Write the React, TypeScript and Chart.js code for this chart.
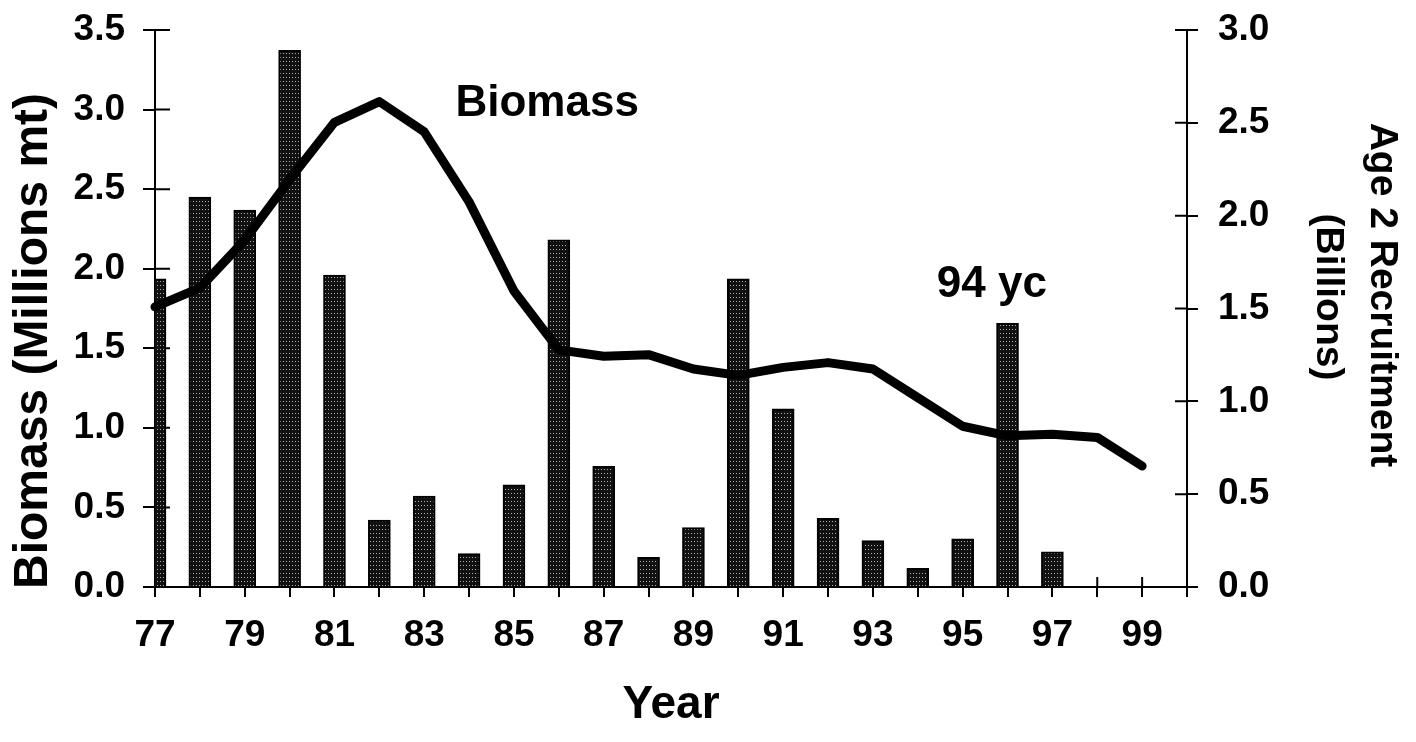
import React, { useEffect, useRef } from 'react';
import { Chart, registerables } from 'chart.js';

Chart.register(...registerables);

const years = [77, 78, 79, 80, 81, 82, 83, 84, 85, 86, 87, 88, 89, 90, 91, 92, 93, 94, 95, 96, 97, 98, 99];
const biomass = [1.76, 1.88, 2.18, 2.56, 2.92, 3.05, 2.86, 2.42, 1.86, 1.49, 1.45, 1.46, 1.37, 1.33, 1.38, 1.41, 1.37, 1.19, 1.01, 0.95, 0.96, 0.94, 0.76];
const recruitYears = [77, 78, 79, 80, 81, 82, 83, 84, 85, 86, 87, 88, 89, 90, 91, 92, 93, 94, 95, 96, 97];
const recruitment = [1.66, 2.1, 2.03, 2.89, 1.68, 0.36, 0.49, 0.18, 0.55, 1.87, 0.65, 0.16, 0.32, 1.66, 0.96, 0.37, 0.25, 0.1, 0.26, 1.42, 0.19];
const xMin = 77;
const xMax = 100;
const leftMax = 3.5;
const rightMax = 3.0;

const FONT = '"Liberation Sans", Arial, Helvetica, sans-serif';

export default function App() {
  const ref = useRef<HTMLCanvasElement>(null);

  useEffect(() => {
    const canvas = ref.current!;
    const ctx = canvas.getContext('2d')!;

    const tile = document.createElement('canvas');
    tile.width = 3;
    tile.height = 4;
    const tctx = tile.getContext('2d')!;
    tctx.fillStyle = '#111111';
    tctx.fillRect(0, 0, 3, 4);
    tctx.fillStyle = '#b0b0b0';
    tctx.fillRect(1, 1, 1, 1);
    const pattern = ctx.createPattern(tile, 'repeat') as CanvasPattern;

    const innerTicks = {
      id: 'innerTicks',
      beforeDatasetsDraw(chart: any) {
        const c = chart.ctx;
        const { left, right, bottom } = chart.chartArea;
        const xs = chart.scales.x;
        const y1 = chart.scales.y;
        const y2 = chart.scales.y2;
        c.save();
        c.strokeStyle = '#000';
        c.lineWidth = 2;
        c.beginPath();
        y1.ticks.forEach((t: any) => {
          const py = y1.getPixelForValue(t.value);
          c.moveTo(left, py);
          c.lineTo(left + 15, py);
        });
        y2.ticks.forEach((t: any) => {
          const py = y2.getPixelForValue(t.value);
          c.moveTo(right - 12, py);
          c.lineTo(right, py);
        });
        xs.ticks.forEach((t: any) => {
          const px = xs.getPixelForValue(t.value);
          c.moveTo(px, bottom);
          c.lineTo(px, bottom - 10);
        });
        c.stroke();
        c.restore();
      },
    };

    const texts = {
      id: 'texts',
      afterDraw(chart: any) {
        const c = chart.ctx;
        const xs = chart.scales.x;
        const y1 = chart.scales.y;
        c.save();
        c.fillStyle = '#000';
        c.font = `bold 44px ${FONT}`;
        c.textAlign = 'center';
        c.textBaseline = 'alphabetic';
        c.fillText('Biomass', xs.getPixelForValue(85.74), y1.getPixelForValue(2.96));
        c.fillText('94 yc', xs.getPixelForValue(95.65), y1.getPixelForValue(1.82));
        c.font = `bold 46px ${FONT}`;
        c.fillText('Year', 671, 718);

        c.save();
        c.translate(34, 341);
        c.rotate(-Math.PI / 2);
        c.textBaseline = 'middle';
        c.font = `bold 48px ${FONT}`;
        c.fillText('Biomass (Millions mt)', 0, 0);
        c.restore();

        c.save();
        c.translate(1382, 295);
        c.rotate(Math.PI / 2);
        c.textBaseline = 'middle';
        c.font = `bold 39px ${FONT}`;
        c.fillText('Age 2 Recruitment', 0, 0);
        c.restore();

        c.save();
        c.translate(1328, 297);
        c.rotate(Math.PI / 2);
        c.textBaseline = 'middle';
        c.font = `bold 39px ${FONT}`;
        c.fillText('(Billions)', 0, 0);
        c.restore();

        c.restore();
      },
    };

    const tickFont = { family: FONT, size: 37, weight: 'bold' as const };

    const chart = new Chart(ctx, {
      type: 'bar',
      data: {
        datasets: [
          {
            type: 'line',
            label: 'Biomass',
            data: years.map((x, i) => ({ x, y: biomass[i] })),
            yAxisID: 'y',
            borderColor: '#000',
            borderWidth: 9,
            pointRadius: 0,
            tension: 0,
            borderJoinStyle: 'round',
            borderCapStyle: 'round',
            order: 0,
            clip: false,
          } as any,
          {
            type: 'bar',
            label: 'Age 2 Recruitment',
            data: recruitYears.map((x, i) => ({ x, y: recruitment[i] })),
            yAxisID: 'y2',
            backgroundColor: pattern,
            borderColor: '#000',
            borderWidth: 2,
            barThickness: 22,
            order: 1,
            clip: 0,
          } as any,
        ],
      },
      plugins: [innerTicks, texts],
      options: {
        animation: false,
        responsive: false,
        maintainAspectRatio: false,
        events: [],
        layout: { padding: { top: 30, left: 0, right: 0, bottom: 0 } },
        plugins: {
          legend: { display: false },
          tooltip: { enabled: false },
          title: { display: false },
        },
        scales: {
          x: {
            type: 'linear',
            min: xMin,
            max: xMax,
            offset: false,
            afterFit: (s: any) => {
              s.height = 155;
              s.paddingLeft = 0;
              s.paddingRight = 0;
            },
            ticks: {
              stepSize: 1,
              autoSkip: false,
              maxRotation: 0,
              minRotation: 0,
              padding: 17,
              color: '#000',
              font: tickFont,
              callback: (v: any) => (Number(v) % 2 === 1 && Number(v) < xMax ? String(v) : ''),
            },
            grid: {
              offset: false,
              drawOnChartArea: false,
              drawTicks: true,
              tickLength: 10,
              color: '#000',
              lineWidth: 2,
            },
            border: { display: true, color: '#000', width: 2 },
          },
          y: {
            type: 'linear',
            position: 'left',
            min: 0,
            max: leftMax,
            afterFit: (s: any) => {
              s.width = 155;
              s.paddingTop = 0;
              s.paddingBottom = 0;
            },
            ticks: {
              stepSize: 0.5,
              padding: 18,
              color: '#000',
              font: tickFont,
              callback: (v: any) => Number(v).toFixed(1),
            },
            grid: {
              drawOnChartArea: false,
              drawTicks: true,
              tickLength: 12,
              color: '#000',
              lineWidth: 2,
            },
            border: { display: true, color: '#000', width: 2 },
          },
          y2: {
            type: 'linear',
            position: 'right',
            min: 0,
            max: rightMax,
            afterFit: (s: any) => {
              s.width = 229;
              s.paddingTop = 0;
              s.paddingBottom = 0;
            },
            ticks: {
              stepSize: 0.5,
              padding: 20,
              color: '#000',
              font: tickFont,
              callback: (v: any) => Number(v).toFixed(1),
            },
            grid: {
              drawOnChartArea: false,
              drawTicks: true,
              tickLength: 11,
              color: '#000',
              lineWidth: 2,
            },
            border: { display: true, color: '#000', width: 2 },
          },
        },
      } as any,
    });

    return () => chart.destroy();
  }, []);

  return (
    <div style={{ position: 'absolute', left: 0, top: 0, width: 1416, height: 742, background: '#fff' }}>
      <canvas ref={ref} width={1416} height={742} style={{ display: 'block', width: 1416, height: 742 }} />
    </div>
  );
}
